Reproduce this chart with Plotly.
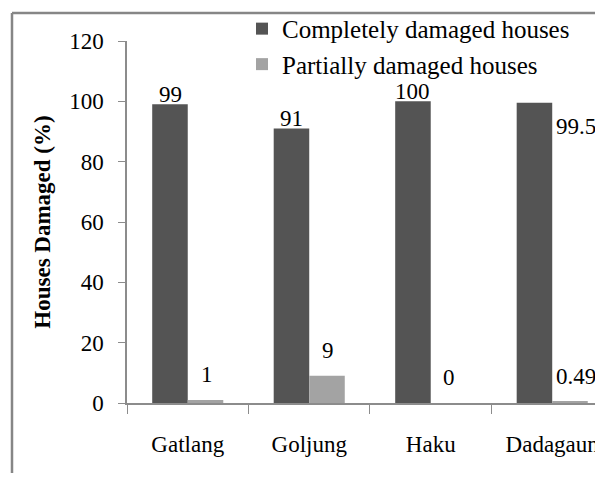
import plotly.graph_objects as go

categories = ["Gatlang", "Goljung", "Haku", "Dadagaun"]
complete = [99, 91, 100, 99.5]
partial = [1, 9, 0, 0.49]
complete_labels = ["99", "91", "100", "99.5"]
partial_labels = ["1", "9", "0", "0.49"]
y_ticks = [0, 20, 40, 60, 80, 100, 120]

FONT = "Liberation Serif, Times New Roman, serif"
FS = 23
fig = go.Figure()
fig.add_trace(go.Bar(x=categories, y=complete, name="Completely damaged houses",
                     marker=dict(color="#545454", line=dict(width=0))))
fig.add_trace(go.Bar(x=categories, y=partial, name="Partially damaged houses",
                     marker=dict(color="#a3a3a3", line=dict(width=0))))

# data labels (positions are styling)
half = 17.75
lab_font = dict(family=FONT, size=FS, color="black")
for i, c in enumerate(categories):
    if i == 3:
        fig.add_annotation(x=c, y=complete[i], text=complete_labels[i], xref="x", yref="y",
                           showarrow=False, xanchor="left", yanchor="middle",
                           xshift=2, yshift=-24, font=lab_font)
        fig.add_annotation(x=c, y=partial[i], text=partial_labels[i], xref="x", yref="y",
                           showarrow=False, xanchor="left", yanchor="middle",
                           xshift=2, yshift=25, font=lab_font)
    else:
        fig.add_annotation(x=c, y=complete[i], text=complete_labels[i], xref="x", yref="y",
                           showarrow=False, xanchor="center", yanchor="bottom",
                           xshift=-half, yshift=-5, font=lab_font)
        fig.add_annotation(x=c, y=partial[i], text=partial_labels[i], xref="x", yref="y",
                           showarrow=False, xanchor="center", yanchor="bottom",
                           xshift=half + 1, yshift=11, font=lab_font)

# outer frame (partly visible)
fig.add_shape(type="line", xref="paper", yref="paper", x0=-0.2416, x1=1.2, y0=1.0773, y1=1.0773,
              line=dict(color="#868686", width=2.5))
fig.add_shape(type="line", xref="paper", yref="paper", x0=-0.2416, x1=-0.2416, y0=1.0773, y1=-0.3,
              line=dict(color="#868686", width=2.5))

fig.update_layout(
    width=595, height=465,
    margin=dict(l=119, r=0, t=33, b=70, autoexpand=False),
    paper_bgcolor="white", plot_bgcolor="white",
    barmode="group", bargap=0.415, bargroupgap=0,
    font=dict(family=FONT, size=FS, color="black"),
    showlegend=True,
    legend=dict(orientation="v", x=0.2416, y=1.097, xanchor="left", yanchor="top",
                font=dict(family=FONT, size=25, color="black"),
                bgcolor="rgba(0,0,0,0)", itemclick=False, tracegroupgap=0),
    xaxis=dict(range=[-0.5, 3.418], showline=True, linecolor="#8c8c8c", linewidth=1.5,
               ticks="outside", tickson="boundaries", ticklen=9, tickcolor="#8c8c8c",
               tickfont=dict(family=FONT, size=FS, color="black"), ticklabelstandoff=20,
               showgrid=False, zeroline=False, fixedrange=True, automargin=False),
    yaxis=dict(range=[0, 120], tickvals=y_ticks, showline=True, linecolor="#8c8c8c", linewidth=1.5,
               ticks="outside", ticklen=7, tickcolor="#8c8c8c",
               tickfont=dict(family=FONT, size=FS, color="black"), ticklabelstandoff=10,
               showgrid=False, zeroline=False, automargin=False,
               title=dict(text="<b>Houses Damaged (%)</b>", standoff=12,
                          font=dict(family=FONT, size=FS, color="black"))),
)

fig.write_html("out.html")
